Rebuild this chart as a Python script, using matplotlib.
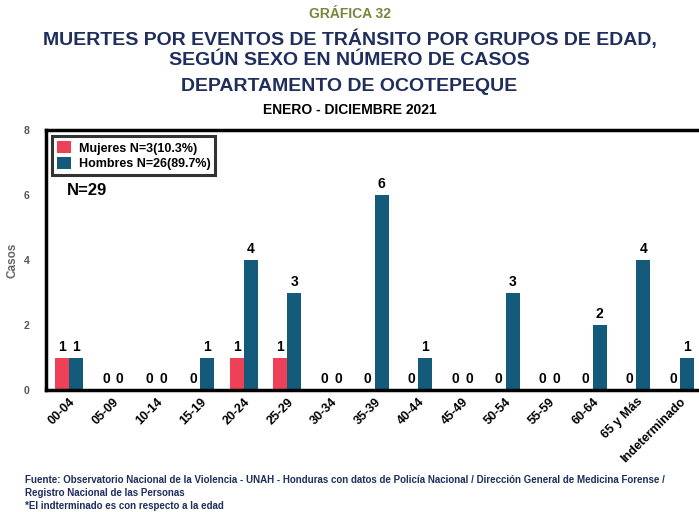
import matplotlib.pyplot as plt
import numpy as np

plt.rcParams['font.family'] = ['Liberation Sans', 'DejaVu Sans']

# grupos de edad y casos por sexo
grupos = ["00-04", "05-09", "10-14", "15-19", "20-24", "25-29", "30-34", "35-39",
          "40-44", "45-49", "50-54", "55-59", "60-64", "65 y Más", "Indeterminado"]
mujeres = [1, 0, 0, 0, 1, 1, 0, 0, 0, 0, 0, 0, 0, 0, 0]
hombres = [1, 0, 0, 1, 4, 3, 0, 6, 1, 0, 3, 0, 2, 4, 1]

etiqueta_mujeres = "Mujeres N=3(10.3%)"
etiqueta_hombres = "Hombres N=26(89.7%)"
total = "N=29"

ROJO = "#EE4056"
AZUL = "#135A7B"
NAVY = "#1F2E5C"
OLIVA = "#76873A"

fig = plt.figure(figsize=(6.99, 5.12), dpi=100)
ax = fig.add_axes([0.066, 0.238, 0.94, 0.508])

x = np.arange(len(grupos))
w = 0.32
b1 = ax.bar(x - w / 2, mujeres, w, color=ROJO, label=etiqueta_mujeres)
b2 = ax.bar(x + w / 2, hombres, w, color=AZUL, label=etiqueta_hombres)

for barras in (b1, b2):
    for b in barras:
        h = b.get_height()
        ax.text(b.get_x() + b.get_width() / 2, h + 0.12, f"{h:.0f}",
                ha="center", va="bottom", fontsize=10, fontweight="bold")

ax.set_xlim(-0.53, len(grupos) - 0.47)
ax.set_ylim(0, 8)
ax.set_yticks([0, 2, 4, 6, 8])
ax.set_xticks(x)
ax.set_xticklabels(grupos, rotation=45, ha="right", rotation_mode="anchor",
                   fontsize=9, fontweight="bold")
ax.tick_params(axis="x", length=0, pad=4)
ax.tick_params(axis="y", length=0, labelsize=7.5, labelcolor="#555555", pad=12)
for lab in ax.get_yticklabels():
    lab.set_fontweight("bold")

for lado in ("top", "left", "bottom"):
    ax.spines[lado].set_linewidth(2.5)
    ax.spines[lado].set_color("black")
ax.spines["right"].set_visible(False)

ax.set_ylabel("Casos", fontsize=8.5, color="#666666", fontweight="bold",
              labelpad=4)

leg = ax.legend(loc="upper left", bbox_to_anchor=(0.0, 1.0),
                prop={"weight": "bold", "size": 9},
                frameon=True, fancybox=False, edgecolor="black",
                handlelength=1.1, handleheight=1.1, handletextpad=0.6,
                labelspacing=0.2, borderpad=0.4, borderaxespad=0.5)
leg.get_frame().set_linewidth(2.2)

ax.text(0.031, 0.75, total, transform=ax.transAxes, fontsize=12,
        fontweight="bold")

fig.text(0.5, 0.972, "GRÁFICA 32", ha="center", va="center", fontsize=10,
         fontweight="bold", color=OLIVA)
fig.text(0.5, 0.923, "MUERTES POR EVENTOS DE TRÁNSITO POR GRUPOS DE EDAD,",
         ha="center", va="center", fontsize=14, fontweight="bold", color=NAVY)
fig.text(0.5, 0.881, "SEGÚN SEXO EN NÚMERO DE CASOS",
         ha="center", va="center", fontsize=14, fontweight="bold", color=NAVY)
fig.text(0.5, 0.831, "DEPARTAMENTO DE OCOTEPEQUE",
         ha="center", va="center", fontsize=14, fontweight="bold", color=NAVY)
fig.text(0.5, 0.785, "ENERO - DICIEMBRE 2021", ha="center", va="center",
         fontsize=10, fontweight="bold", color="black")

pie = ("Fuente: Observatorio Nacional de la Violencia - UNAH - Honduras con datos de "
       "Policía Nacional / Dirección General de Medicina Forense /\n"
       "Registro Nacional de las Personas\n"
       "*El indterminado es con respecto a la edad")
fig.text(0.036, 0.073, pie, ha="left", va="top", fontsize=7, fontweight="bold",
         color=NAVY, linespacing=1.38)

fig.savefig("out.png", dpi=100)
